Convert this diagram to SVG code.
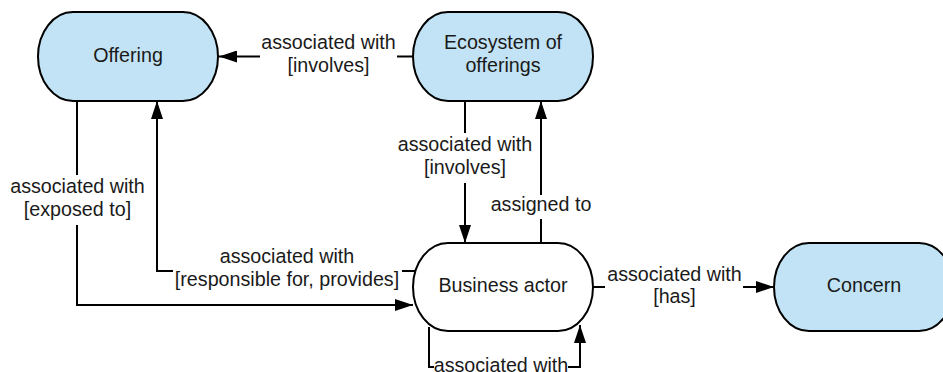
<svg xmlns="http://www.w3.org/2000/svg" width="943" height="372" viewBox="0 0 943 372">
  <style>
    .node { stroke: #000; stroke-width: 2; }
    .blue { fill: #c2e3f5; }
    .white { fill: #fff; }
    .label { font-family: "Liberation Sans", Arial, sans-serif; font-size: 19.7px; fill: #1a1a1a; text-anchor: middle; }
    .edge { fill: none; stroke: #000; stroke-width: 2; }
  </style>
  <defs>
    <marker id="arrow" markerUnits="userSpaceOnUse" markerWidth="18" markerHeight="12" refX="18" refY="6" orient="auto">
      <path d="M0,0 L18,6 L0,12 z" fill="#000"/>
    </marker>
  </defs>

  <rect width="943" height="372" fill="#fff"/>

  <g id="connectors">
    <!-- Ecosystem of offerings -> Offering -->
    <path class="edge" d="M413,56.5 H397"/>
    <path class="edge" d="M260,56.5 H219" marker-end="url(#arrow)"/>
    <!-- Ecosystem of offerings -> Business actor -->
    <path class="edge" d="M465,101 V133"/>
    <path class="edge" d="M465,183 V243" marker-end="url(#arrow)"/>
    <!-- Business actor -> Ecosystem of offerings -->
    <path class="edge" d="M541,243 V219"/>
    <path class="edge" d="M541,195 V101" marker-end="url(#arrow)"/>
    <!-- Offering -> Business actor -->
    <path class="edge" d="M77,101 V175"/>
    <path class="edge" d="M77,225 V305 H413" marker-end="url(#arrow)"/>
    <!-- Business actor -> Offering -->
    <path class="edge" d="M415,271 H402"/>
    <path class="edge" d="M173,271 H157 V101" marker-end="url(#arrow)"/>
    <!-- Business actor -> Concern -->
    <path class="edge" d="M593,287 H605"/>
    <path class="edge" d="M743,287 H774" marker-end="url(#arrow)"/>
    <!-- Business actor self loop -->
    <path class="edge" d="M429,327 V367 H434"/>
    <path class="edge" d="M568,367 H580 V325" marker-end="url(#arrow)"/>

    <text class="label" x="328.5" y="49">associated with</text>
    <text class="label" x="328.5" y="72">[involves]</text>
    <text class="label" x="465" y="151">associated with</text>
    <text class="label" x="465" y="174">[involves]</text>
    <text class="label" x="541" y="211">assigned to</text>
    <text class="label" x="77.5" y="193">associated with</text>
    <text class="label" x="77.5" y="216">[exposed to]</text>
    <text class="label" x="287" y="263">associated with</text>
    <text class="label" x="287" y="286">[responsible for, provides]</text>
    <text class="label" x="674.5" y="281">associated with</text>
    <text class="label" x="674.5" y="303">[has]</text>
    <text class="label" x="501" y="372">associated with</text>
  </g>

  <g id="offering">
    <rect class="node blue" x="38" y="12" width="180" height="89" rx="35" ry="44.5"/>
    <text class="label" x="128" y="62">Offering</text>
  </g>

  <g id="ecosystem-of-offerings">
    <rect class="node blue" x="413" y="12" width="180" height="89" rx="35" ry="44.5"/>
    <text class="label" x="503" y="49">Ecosystem of</text>
    <text class="label" x="503" y="72">offerings</text>
  </g>

  <g id="business-actor">
    <rect class="node white" x="413" y="243" width="180" height="88" rx="35" ry="44"/>
    <text class="label" x="503" y="292">Business actor</text>
  </g>

  <g id="concern">
    <rect class="node blue" x="774" y="243" width="180" height="88" rx="35" ry="44"/>
    <text class="label" x="864" y="292">Concern</text>
  </g>
</svg>
